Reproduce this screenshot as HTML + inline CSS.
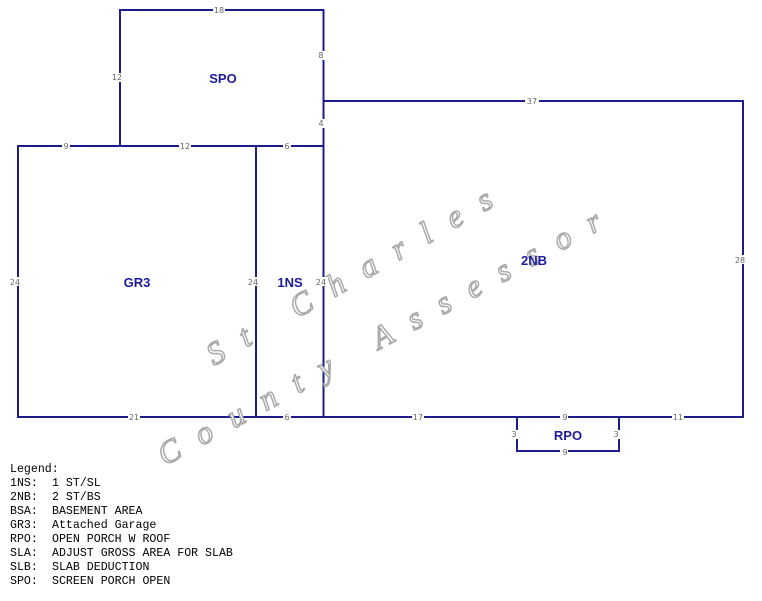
<!DOCTYPE html>
<html><head><meta charset="utf-8"><style>
html,body{margin:0;padding:0;background:#fff;}
svg{display:block;}
.d{font-family:"DejaVu Sans","Liberation Sans",sans-serif;font-size:8px;fill:#666;}
.lb{font-family:"Liberation Sans",sans-serif;font-size:13px;font-weight:bold;fill:#1c1c9c;}
.lg{font-family:"Liberation Mono",monospace;font-size:11.6px;fill:#000;}
.wm{font-family:"Liberation Serif",serif;font-style:italic;font-size:32px;fill:#fff;stroke:#aaa;stroke-width:1.5;}
</style></head><body>
<svg width="762" height="601" viewBox="0 0 762 601" xmlns="http://www.w3.org/2000/svg">
<g stroke="#1c1c8c" stroke-width="2" fill="none">
<rect x="120" y="10" width="203.5" height="136"/>
<rect x="18" y="146" width="305.5" height="271"/>
<line x1="256" y1="146" x2="256" y2="417"/>
<polyline points="323.5,101 743,101 743,417 323.5,417"/>
<line x1="323.5" y1="101" x2="323.5" y2="146"/>
<rect x="517" y="417" width="102" height="34"/>
</g>
<g class="wm">
<text transform="translate(214,366) rotate(-29.7)" letter-spacing="21">St Charles</text>
<text transform="translate(165,466) rotate(-28.5)" letter-spacing="20.5">County Assessor</text>
</g>
<g class="d" text-anchor="middle">
<g fill="#fff" stroke="none">
<rect x="213" y="6" width="12" height="8"/><rect x="113" y="73" width="10" height="9"/>
<rect x="318" y="51" width="8" height="9"/><rect x="318" y="119" width="8" height="9"/>
<rect x="525" y="97" width="14" height="8"/><rect x="736" y="255" width="12" height="9"/>
<rect x="62" y="142" width="8" height="8"/><rect x="179" y="142" width="12" height="8"/>
<rect x="283" y="142" width="8" height="8"/><rect x="10" y="277" width="12" height="9"/>
<rect x="249" y="277" width="12" height="9"/><rect x="316" y="277" width="12" height="9"/>
<rect x="128" y="413" width="12" height="8"/><rect x="283" y="413" width="8" height="8"/>
<rect x="412" y="413" width="12" height="8"/><rect x="560" y="413" width="8" height="8"/>
<rect x="672" y="413" width="12" height="8"/><rect x="560" y="447" width="8" height="8"/>
<rect x="511" y="430" width="8" height="9"/><rect x="613" y="430" width="8" height="9"/>
</g>
<text x="219" y="13">18</text><text x="117" y="80">12</text>
<text x="321" y="58">8</text><text x="321" y="126">4</text>
<text x="532" y="104">37</text><text x="740" y="263">28</text>
<text x="66" y="149">9</text><text x="185" y="149">12</text>
<text x="287" y="149">6</text><text x="15" y="285">24</text>
<text x="253" y="285">24</text><text x="321" y="285">24</text>
<text x="134" y="420">21</text><text x="287" y="420">6</text>
<text x="418" y="420">17</text><text x="565" y="420">9</text>
<text x="678" y="420">11</text><text x="565" y="455">9</text>
<text x="514" y="437">3</text><text x="616" y="437">3</text>
</g>
<g class="lb" text-anchor="middle">
<text x="223" y="83">SPO</text><text x="137" y="287">GR3</text>
<text x="290" y="287">1NS</text><text x="534" y="265">2NB</text>
<text x="568" y="440">RPO</text>
</g>
<g class="lg">
<text x="10" y="472">Legend:</text>
<text x="10" y="486">1NS:</text><text x="52" y="486">1 ST/SL</text>
<text x="10" y="500">2NB:</text><text x="52" y="500">2 ST/BS</text>
<text x="10" y="514">BSA:</text><text x="52" y="514">BASEMENT AREA</text>
<text x="10" y="528">GR3:</text><text x="52" y="528">Attached Garage</text>
<text x="10" y="542">RPO:</text><text x="52" y="542">OPEN PORCH W ROOF</text>
<text x="10" y="556">SLA:</text><text x="52" y="556">ADJUST GROSS AREA FOR SLAB</text>
<text x="10" y="570">SLB:</text><text x="52" y="570">SLAB DEDUCTION</text>
<text x="10" y="584">SPO:</text><text x="52" y="584">SCREEN PORCH OPEN</text>
</g>
</svg>
</body></html>
